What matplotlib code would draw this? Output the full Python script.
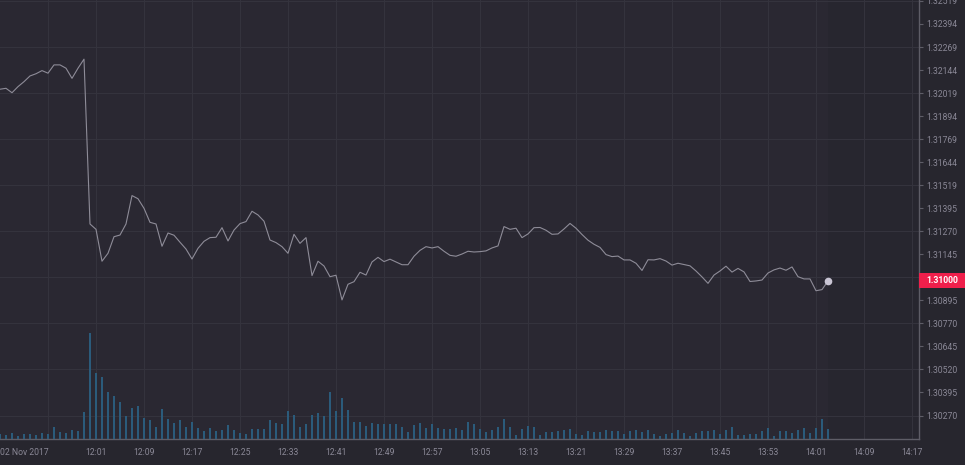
import numpy as np
import pandas as pd
import matplotlib
matplotlib.use('Agg')
import matplotlib.pyplot as plt
import matplotlib.dates as mdates
import matplotlib.transforms as mtransforms
from matplotlib.patches import Rectangle
from matplotlib.ticker import FixedLocator, FixedFormatter

# 1 min closes, 02 Nov 2017, 11:45 -> 14:03
price = [1.32040, 1.32045, 1.32021, 1.32054, 1.32081, 1.32112, 1.32124, 1.32141, 1.32127, 1.32172,
         1.32172, 1.32154, 1.32099, 1.32154, 1.32203,
         1.31309, 1.31280, 1.31107, 1.31150, 1.31240, 1.31249, 1.31309, 1.31463, 1.31446, 1.31394,
         1.31318, 1.31309, 1.31188, 1.31260, 1.31248,
         1.31210, 1.31173, 1.31119, 1.31177, 1.31215, 1.31235, 1.31237, 1.31289, 1.31217, 1.31276,
         1.31311, 1.31322, 1.31378, 1.31358, 1.31324,
         1.31222, 1.31208, 1.31186, 1.31150, 1.31253, 1.31204, 1.31235, 1.31029, 1.31107, 1.31081,
         1.31023, 1.31031, 1.30897, 1.30982, 1.30996,
         1.31047, 1.31032, 1.31103, 1.31128, 1.31105, 1.31118, 1.31103, 1.31088, 1.31088, 1.31134,
         1.31166, 1.31186, 1.31179, 1.31186, 1.31161,
         1.31139, 1.31134, 1.31146, 1.31161, 1.31157, 1.31159, 1.31163, 1.31179, 1.31190, 1.31295,
         1.31280, 1.31286, 1.31235, 1.31255, 1.31289,
         1.31290, 1.31275, 1.31253, 1.31255, 1.31282, 1.31312, 1.31286, 1.31252, 1.31221, 1.31199,
         1.31182, 1.31143, 1.31132, 1.31135, 1.31114,
         1.31114, 1.31096, 1.31057, 1.31115, 1.31114, 1.31121, 1.31108, 1.31086, 1.31096, 1.31089,
         1.31082, 1.31054, 1.31022, 1.30987, 1.31032,
         1.31054, 1.31080, 1.31048, 1.31068, 1.31049, 1.30997, 1.31000, 1.31005, 1.31043, 1.31060,
         1.31070, 1.31058, 1.31076, 1.31023, 1.31011,
         1.31011, 1.30947, 1.30953, 1.31000]

volume = [5, 4, 6, 3, 5, 5, 4, 6, 5, 12, 7, 6, 9, 8, 27,
          106, 66, 62, 47, 43, 37, 23, 31, 33, 21, 19, 12, 30, 20, 16,
          19, 12, 17, 11, 8, 11, 8, 9, 14, 9, 6, 5, 10, 10, 10,
          19, 16, 15, 28, 24, 12, 15, 24, 26, 23, 47, 28, 41, 29, 17,
          17, 13, 16, 15, 15, 15, 15, 12, 7, 14, 16, 11, 15, 11, 10,
          10, 11, 9, 17, 15, 10, 7, 9, 12, 20, 12, 4, 10, 13, 12,
          4, 7, 7, 8, 9, 10, 5, 4, 8, 7, 7, 9, 8, 8, 5,
          8, 9, 7, 9, 5, 3, 5, 6, 9, 6, 3, 6, 8, 8, 9,
          5, 9, 12, 4, 4, 5, 5, 8, 11, 3, 8, 8, 6, 9, 11,
          6, 11, 20, 10]

ytick_labels = ['1.32519', '1.32394', '1.32269', '1.32144', '1.32019', '1.31894', '1.31769',
                '1.31644', '1.31519', '1.31395', '1.31270', '1.31145', '1.31020', '1.30895',
                '1.30770', '1.30645', '1.30520', '1.30395', '1.30270']
xtick_labels = ['', '12:01', '12:09', '12:17', '12:25', '12:33', '12:41', '12:49', '12:57', '13:05',
                '13:13', '13:21', '13:29', '13:37', '13:45', '13:53', '14:01', '14:09', '14:17']
date_label = '02 Nov 2017'

times = pd.date_range('2017-11-02 11:45', periods=len(price), freq='min')
xs = mdates.date2num(times)
xticks = mdates.date2num(pd.date_range('2017-11-02 11:53', periods=len(xtick_labels), freq='8min'))
xmin = xs[0]
xmax = mdates.date2num(pd.Timestamp('2017-11-02 14:18:10'))
ymin, ymax = 1.30141, 1.32524

bg = '#27262e'
plot_bg = '#2a2832'
txt = '#8a8896'
grid_c = '#34333d'
spine_c = '#5e5d67'
red = '#ef1f4b'

plt.rcParams['font.family'] = ['Roboto', 'DejaVu Sans']

fig = plt.figure(figsize=(9.65, 4.65), dpi=100, facecolor=bg)
ax = fig.add_axes([0, 25.7 / 465, 919 / 965, 439.3 / 465], facecolor=plot_bg)

# volume bars on a twin axis (made first, twinx resets the tick side)
ax2 = ax.twinx()
ax2.bar(xs, volume, width=0.34 / 1440, color='#2b5b7b', lw=0)
ax2.set_ylim(0, max(volume) * 4.15)
ax2.set_xlim(xmin, xmax)
ax2.set_yticks([])
for s in ax2.spines.values():
    s.set_visible(False)

# area after the last candle is a bit darker
ax.axvspan(xs[-1], xmax, color='#27262f', lw=0, zorder=0)

ax.plot(xs, price, color='#8e8c98', lw=0.8, zorder=3)
ax.plot(xs[-1], price[-1], 'o', ms=5.5, color='#c9c5d4', mec='none', zorder=4)

ax.set_xlim(xmin, xmax)
ax.set_ylim(ymin, ymax)

# y ticks on the right, grid only every second one
yvals = [float(s) for s in ytick_labels]
shown = [('' if s == '1.31020' else s) for s in ytick_labels]
ax.yaxis.tick_right()
ax.yaxis.set_major_locator(FixedLocator(yvals[::2]))
ax.yaxis.set_major_formatter(FixedFormatter(shown[::2]))
ax.yaxis.set_minor_locator(FixedLocator(yvals[1::2]))
ax.yaxis.set_minor_formatter(FixedFormatter(shown[1::2]))
ax.tick_params(axis='y', which='both', left=False, labelleft=False, right=True, labelright=True,
               length=3, width=0.8, color=spine_c, pad=2.5, labelsize=6.2, labelcolor=txt)

ax.set_xticks(xticks)
ax.set_xticklabels(xtick_labels)
ax.tick_params(axis='x', length=0, pad=6.5, labelsize=6.2, labelcolor=txt)

ax.grid(True, which='major', color=grid_c, lw=0.8)
ax.set_axisbelow(True)

for s in ['top', 'left']:
    ax.spines[s].set_visible(False)
for s in ['right', 'bottom']:
    ax.spines[s].set_color(spine_c)
    ax.spines[s].set_linewidth(1.0)

ax.annotate(date_label, xy=(0, 0), xycoords='axes fraction', xytext=(0, -6.5),
            textcoords='offset points', ha='left', va='top', fontsize=6.2, color=txt)

# last price tag
trans = mtransforms.blended_transform_factory(ax.transAxes, ax.transData)
half = 7.5 / 439.3 * (ymax - ymin)
ax.add_patch(Rectangle((1.0, price[-1] - half), 46 / 919, 2 * half, transform=trans,
                       facecolor=red, edgecolor='none', clip_on=False, zorder=6))
ax.text(1.0 + 7.5 / 919, price[-1], f'{price[-1]:.5f}', transform=trans, ha='left', va='center',
        fontsize=6.2, color='white', fontweight='bold', zorder=7, clip_on=False)

fig.savefig('out.png', dpi=100, facecolor=bg)
